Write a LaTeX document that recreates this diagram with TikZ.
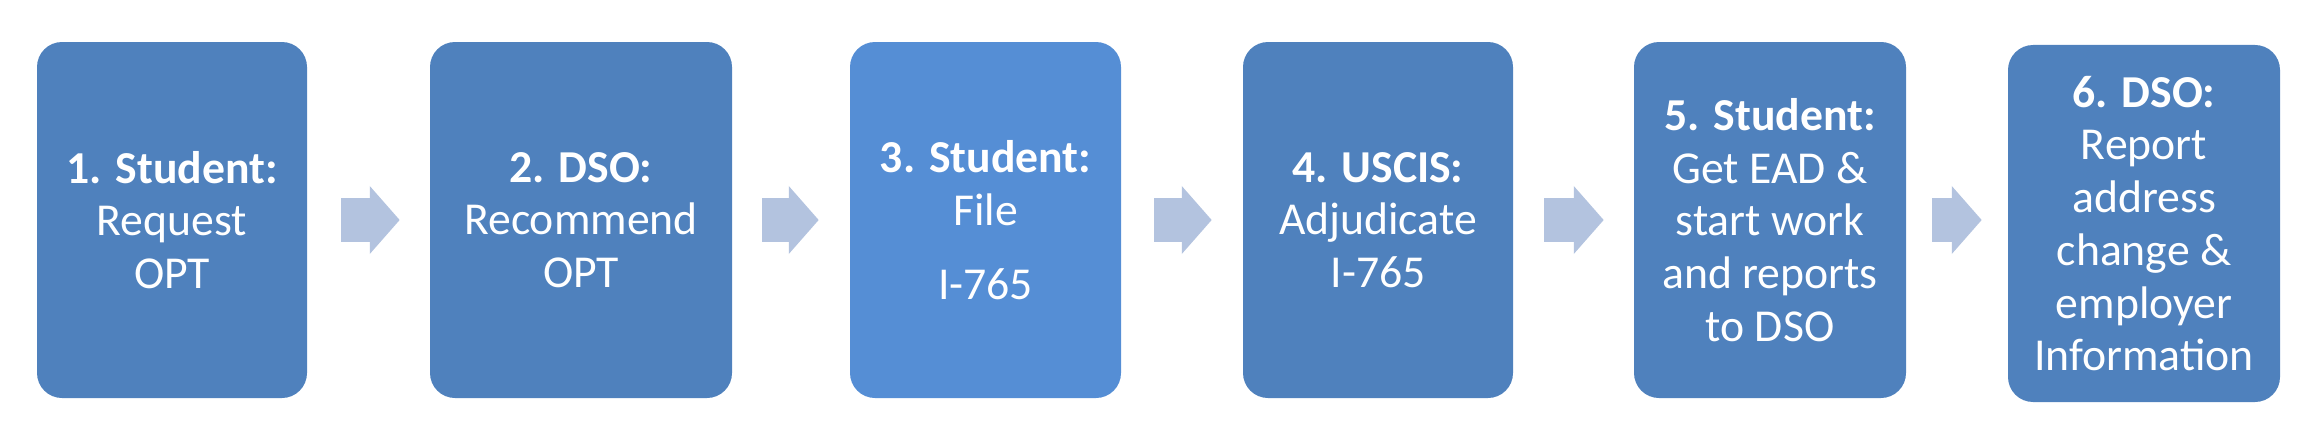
\documentclass[tikz,border=0pt]{standalone}
\usepackage{fontspec}
\setmainfont{Carlito}
\usetikzlibrary{arrows.meta,calc,positioning}
\definecolor{boxblau}{HTML}{4F81BD}
\definecolor{boxhell}{HTML}{558ED5}
\definecolor{pfeilblau}{HTML}{B3C3DF}
\tikzset{
  schritt/.style={rectangle,rounded corners=0.5cm,fill=boxblau,text=white,align=center,
    minimum height=7.12cm,inner sep=0pt,font=\fontsize{26}{30}\selectfont},
  pfeil/.style={draw=pfeilblau,line width=24.5pt,-{Triangle[length=17pt,width=38.7pt,line width=0pt]}}
}
\begin{document}
\begin{tikzpicture}
%Masse aus dem Bild: 1 Pixel = 0.02 cm
\useasboundingbox (0,0) rectangle (46.12,8.68);
\node[schritt,minimum width=5.40cm] (s1) at (3.44,4.28) {\textbf{1. Student:}\\Request\\OPT};
\node[schritt,minimum width=6.04cm] (s2) at (11.62,4.28) {\textbf{2. DSO:}\\Recommend\\OPT};
\node[schritt,minimum width=5.42cm,fill=boxhell] (s3) at (19.71,4.28) {\textbf{3. Student:}\\File\\[12pt]I-765};
\node[schritt,minimum width=5.40cm] (s4) at (27.56,4.28) {\textbf{4. USCIS:}\\Adjudicate\\I-765};
\node[schritt,minimum width=5.44cm] (s5) at (35.40,4.28) {\textbf{5. Student:}\\Get EAD \&\\start work\\and reports\\to DSO};
\node[schritt,minimum width=5.44cm,minimum height=7.14cm] (s6) at (42.88,4.21) {\textbf{6. DSO:}\\Report\\address\\change \&\\employer\\Information};
%Pfeile zwischen den Schritten
\foreach \von/\nach/\a/\b in {s1/s2/0.68/0.60,s2/s3/0.60/0.62,s3/s4/0.66/0.62,s4/s5/0.62/0.60,s5/s6/0.52/0.52}{
  \draw[pfeil,shorten <=\a cm,shorten >=\b cm] (\von.east) -- (\von.east -| \nach.west);
}
\end{tikzpicture}
\end{document}
